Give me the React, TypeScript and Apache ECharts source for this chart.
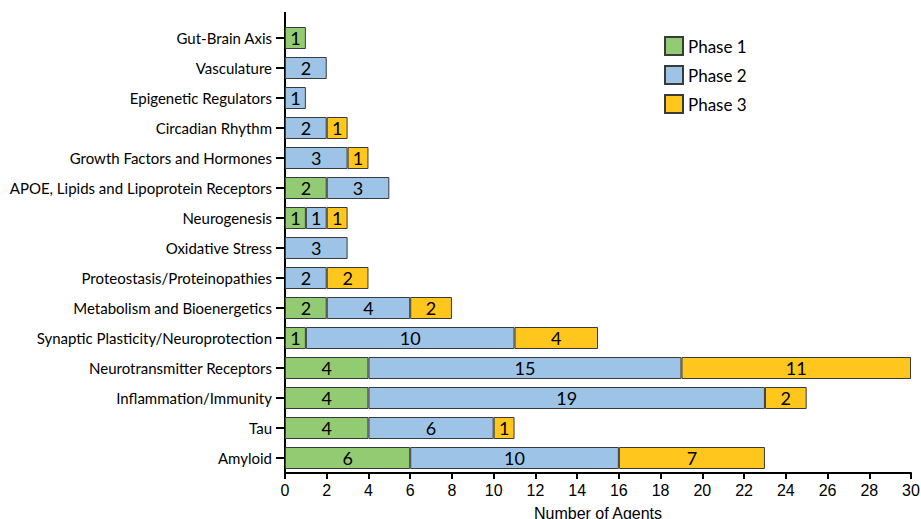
import React, { useEffect, useRef } from "react";
import * as echarts from "echarts";

const categories = [
  "Amyloid",
  "Tau",
  "Inflammation/Immunity",
  "Neurotransmitter Receptors",
  "Synaptic Plasticity/Neuroprotection",
  "Metabolism and Bioenergetics",
  "Proteostasis/Proteinopathies",
  "Oxidative Stress",
  "Neurogenesis",
  "APOE, Lipids and Lipoprotein Receptors",
  "Growth Factors and Hormones",
  "Circadian Rhythm",
  "Epigenetic Regulators",
  "Vasculature",
  "Gut-Brain Axis",
];
const phase1 = [6, 4, 4, 4, 1, 2, 0, 0, 1, 2, 0, 0, 0, 0, 1];
const phase2 = [10, 6, 19, 15, 10, 4, 2, 3, 1, 3, 3, 2, 1, 2, 0];
const phase3 = [7, 1, 2, 11, 4, 2, 2, 0, 1, 0, 1, 1, 0, 0, 0];
const xTicks = { min: 0, max: 30, interval: 2 };

const seriesDefs = [
  { name: "Phase 1", data: phase1, color: "#93CB73" },
  { name: "Phase 2", data: phase2, color: "#9DC3E6" },
  { name: "Phase 3", data: phase3, color: "#FFC61E" },
];

export default function App() {
  const ref = useRef<HTMLDivElement>(null);
  useEffect(() => {
    if (!ref.current) return;
    const chart = echarts.init(ref.current, null, { renderer: "svg" });
    const labelFont = "Lato, 'Open Sans', sans-serif";
    const numFont = "'Liberation Sans', Arial, sans-serif";
    chart.setOption({
      animation: false,
      backgroundColor: "#ffffff",
      grid: {
        left: 285,
        right: 10,
        top: 23,
        bottom: 46,
        containLabel: false,
        outerBoundsMode: "none",
      },
      legend: {
        orient: "vertical",
        left: 659,
        top: 31,
        itemWidth: 18,
        itemHeight: 18,
        itemGap: 9,
        icon: "rect",
        textStyle: { fontSize: 17, color: "#000", fontFamily: labelFont },
        data: seriesDefs.map((s) => s.name),
      },
      xAxis: {
        type: "value",
        min: xTicks.min,
        max: xTicks.max,
        interval: xTicks.interval,
        name: "Number of Agents",
        nameLocation: "middle",
        nameGap: 32,
        nameTextStyle: { fontSize: 16, color: "#000", fontFamily: numFont },
        axisLine: { show: true, lineStyle: { color: "#000", width: 2 } },
        axisTick: { show: true, length: 6, lineStyle: { color: "#000", width: 2 } },
        axisLabel: { fontSize: 16, color: "#000", margin: 9, fontFamily: numFont },
        splitLine: { show: false },
      },
      yAxis: {
        type: "category",
        data: categories,
        axisLine: { show: true, lineStyle: { color: "#000", width: 2 } },
        axisTick: { show: true, length: 9, alignWithLabel: true, lineStyle: { color: "#000", width: 2 } },
        axisLabel: { fontSize: 15, color: "#000", margin: 13, fontFamily: labelFont },
        splitLine: { show: false },
      },
      graphic: [
        {
          type: "line",
          shape: { x1: 285, y1: 12, x2: 285, y2: 24 },
          style: { stroke: "#000", lineWidth: 2 },
        },
      ],
      series: seriesDefs.map((s) => ({
        name: s.name,
        type: "bar",
        stack: "total",
        barWidth: 22,
        data: s.data.map((v) => (v > 0 ? v : null)),
        itemStyle: { color: s.color, borderColor: "#3a3a3a", borderWidth: 1 },
        label: {
          show: true,
          position: "inside",
          fontSize: 18,
          color: "#000",
          fontFamily: labelFont,
        },
      })),
    });
    return () => chart.dispose();
  }, []);
  return (
    <div
      ref={ref}
      style={{ position: "fixed", left: 0, top: 0, width: 921, height: 519 }}
    />
  );
}
